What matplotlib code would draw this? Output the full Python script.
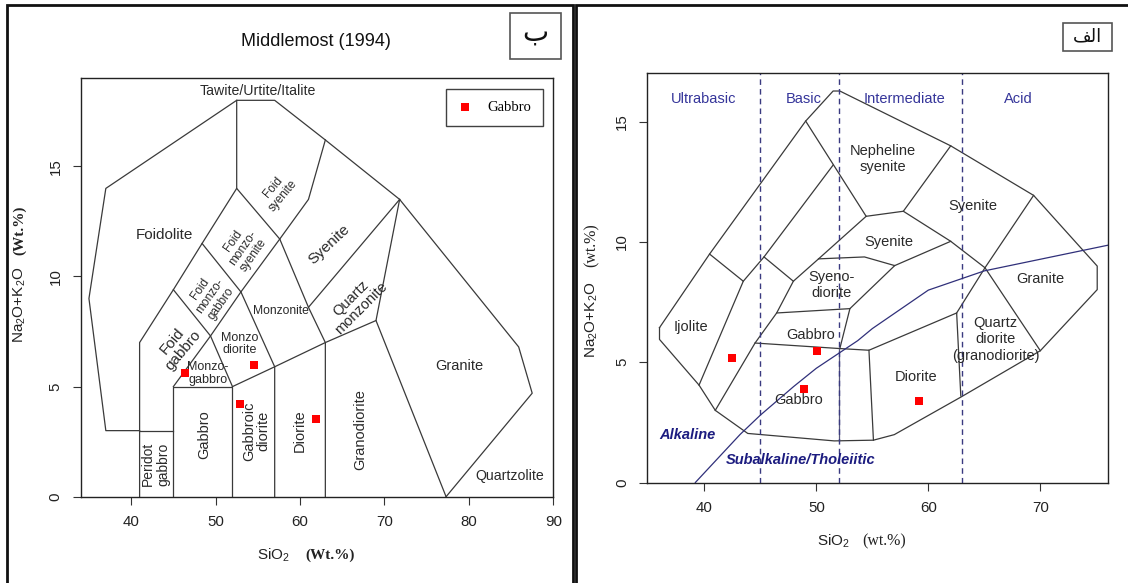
import matplotlib
matplotlib.use('Agg')
import matplotlib.pyplot as plt
from matplotlib.patches import Rectangle

plt.rcParams['font.family'] = ['Liberation Sans', 'DejaVu Sans']
plt.rcParams['mathtext.fontset'] = 'custom'
plt.rcParams['mathtext.rm'] = 'Liberation Sans'
plt.rcParams['mathtext.it'] = 'Liberation Sans:italic'
plt.rcParams['mathtext.bf'] = 'Liberation Sans:bold'

# ---------------- data: left panel (Middlemost 1994) ----------------
mid_outer = [(41, 3), (37, 3), (35, 9), (37, 14), (52.5, 18), (57, 18), (63, 16.2),
             (71.8, 13.5), (85.9, 6.8), (87.5, 4.7), (77.3, 0)]
mid_lines = [
    [(41, 0), (41, 7), (45, 9.4), (48.4, 11.5), (52.5, 14), (52.5, 18)],
    [(41, 3), (45, 3)],
    [(45, 0), (45, 5), (52, 5), (52, 0)],
    [(45, 5), (49.4, 7.3), (53, 9.3), (57.6, 11.7), (61, 13.5), (63, 16.2)],
    [(52.5, 14), (57.6, 11.7)],
    [(48.4, 11.5), (53, 9.3)],
    [(45, 9.4), (49.4, 7.3), (52, 5)],
    [(53, 9.3), (57, 5.9), (57, 0)],
    [(57.6, 11.7), (61, 8.6), (63, 7), (63, 0)],
    [(52, 5), (57, 5.9), (63, 7), (69, 8), (71.8, 13.5)],
    [(61, 8.6), (71.8, 13.5)],
    [(69, 8), (77.3, 0)],
]
mid_labels = [
    ("Foidolite", 43.9, 11.9, 0, 11),
    ("Foid\nsyenite", 57.4, 13.85, 50, 8.5),
    ("Foid\nmonzo-\nsyenite", 53.3, 11.3, 55, 8.5),
    ("Foid\nmonzo-\ngabbro", 49.4, 9.1, 55, 8.5),
    ("Foid\ngabbro", 45.5, 6.86, 50, 11),
    ("Syenite", 63.4, 11.45, 43, 11),
    ("Quartz\nmonzonite", 66.6, 8.78, 45, 10.5),
    ("Monzonite", 57.75, 8.44, 0, 8.7),
    ("Monzo\ndiorite", 52.8, 6.94, 0, 9),
    ("Monzo-\ngabbro", 49.07, 5.6, 0, 9),
    ("Granite", 78.85, 5.93, 0, 10.5),
    ("Quartzolite", 84.9, 0.96, 0, 10.2),
    ("Granodiorite", 67.1, 3.07, 90, 10.5),
    ("Diorite", 60.0, 2.98, 90, 10.5),
    ("Gabbroic\ndiorite", 54.85, 2.98, 90, 10.5),
    ("Gabbro", 48.6, 2.8, 90, 10.5),
    ("Peridot\ngabbro", 42.9, 1.47, 90, 10),
    ("Tawite/Urtite/Italite", 55, 18.44, 0, 10.2),
]
left_sio2 = [46.35, 54.5, 52.85, 61.85]
left_alk = [5.6, 5.97, 4.19, 3.55]

# ---------------- data: right panel (Cox et al. plutonic) ----------------
cox_outer = [(36.0, 6.44), (36.0, 5.95), (39.53, 4.05), (40.98, 3.0), (43.88, 2.04),
             (51.6, 1.73), (55.1, 1.76), (56.96, 1.99), (62.9, 3.55), (70.0, 5.48),
             (75.08, 8.02), (75.08, 9.0), (69.4, 11.94), (62.0, 14.0), (52.1, 16.28),
             (51.5, 16.28), (49.05, 15.03), (40.47, 9.5), (36.0, 6.44)]
cox_lines = [
    [(40.47, 9.5), (43.48, 8.37), (39.53, 4.05)],
    [(51.5, 13.2), (45.33, 9.38), (43.48, 8.37)],
    [(45.33, 9.38), (47.95, 8.37)],
    [(49.05, 15.03), (54.45, 11.07), (57.77, 11.28), (62.0, 14.0)],
    [(54.45, 11.07), (50.2, 9.3), (47.95, 8.37), (46.46, 7.05), (44.53, 5.8), (40.98, 3.0)],
    [(50.2, 9.3), (54.3, 9.38), (57.0, 9.02), (62.0, 10.03)],
    [(57.77, 11.28), (62.0, 10.03), (65.06, 8.93)],
    [(69.4, 11.94), (65.06, 8.93), (70.0, 5.48)],
    [(65.06, 8.93), (62.53, 7.05), (62.9, 3.6)],
    [(57.0, 9.02), (53.0, 7.23), (46.46, 7.05)],
    [(53.0, 7.23), (52.1, 5.57)],
    [(44.53, 5.8), (52.1, 5.57), (54.7, 5.5), (62.53, 7.05)],
    [(54.7, 5.5), (55.1, 1.76)],
]
cox_split = [(52.05, 5.57), (52.05, 1.73)]
cox_labels = [
    ("Nepheline\nsyenite", 55.95, 13.44),
    ("Syenite", 63.98, 11.49),
    ("Syenite", 56.48, 10.0),
    ("Syeno-\ndiorite", 51.38, 8.22),
    ("Gabbro", 49.45, 6.13),
    ("Gabbro", 48.38, 3.43),
    ("Ijolite", 38.77, 6.47),
    ("Granite", 69.97, 8.45),
    ("Quartz\ndiorite\n(granodiorite)", 66.0, 5.95),
    ("Diorite", 58.94, 4.4),
]
silica_bounds = [45, 52, 63]
silica_classes = [("Ultrabasic", 39.94), ("Basic", 48.9), ("Intermediate", 57.9), ("Acid", 68.05)]
ib_x = [39.2, 40, 43.2, 45, 48, 50, 53.7, 55, 60, 65, 77.4]
ib_y = [0, 0.4, 2, 2.8, 4, 4.75, 5.9, 6.4, 8, 8.8, 10]
right_sio2 = [42.5, 50.07, 48.93, 59.2]
right_alk = [5.17, 5.47, 3.9, 3.38]

# ---------------- figure ----------------
W, H = 1128, 583
fig = plt.figure(figsize=(W / 100, H / 100), dpi=100)


def fx(px):
    return px / W


def fy(py):
    return 1 - py / H


LC = '#3a3a3a'
TC = '#2a2a2a'


def style_axes(ax, xt, yt):
    ax.set_xticks(xt)
    ax.set_yticks(yt)
    ax.tick_params(direction='out', length=5.5, width=0.8, color='#333333',
                   labelsize=10.8, labelcolor='#222222', pad=7.5)
    for lab in ax.get_yticklabels():
        lab.set_rotation(90)
        lab.set_va('center')
    for s in ax.spines.values():
        s.set_linewidth(1.0)
        s.set_color('#222222')


# frames of the two panels
fig.add_artist(Rectangle((fx(6.5), fy(640)), fx(572.7) - fx(6.5), fy(4.5) - fy(640),
                         transform=fig.transFigure, fill=False, lw=2.0, ec='#111111'))
fig.add_artist(Rectangle((fx(575.5), fy(640)), fx(1200) - fx(575.5), fy(4.5) - fy(640),
                         transform=fig.transFigure, fill=False, lw=2.0, ec='#111111'))

# ---------- left axes ----------
axL = fig.add_axes([fx(80.5), fy(496.7), fx(553.3) - fx(80.5), fy(78.3) - fy(496.7)])
axL.set_xlim(34, 90)
axL.set_ylim(0, 19)
xs, ys = zip(*mid_outer)
axL.plot(xs, ys, color=LC, lw=0.9)
for ln in mid_lines:
    xs, ys = zip(*ln)
    axL.plot(xs, ys, color=LC, lw=0.9)
for t, x, y, r, s in mid_labels:
    axL.text(x, y, t, rotation=r, fontsize=s, color=TC, ha='center', va='center',
             multialignment='center', linespacing=1.05, rotation_mode='anchor')
hL = axL.scatter(left_sio2, left_alk, marker='s', s=34, color='#ff0000', linewidths=0,
                 zorder=5, label='Gabbro')
style_axes(axL, [40, 50, 60, 70, 80, 90], [0, 5, 10, 15])
leg = axL.legend(handles=[hL], loc='upper right', bbox_to_anchor=(fx(542.7), fy(89.2)),
                 bbox_transform=fig.transFigure, frameon=True, fancybox=False,
                 edgecolor='#111111', borderpad=0.8, handlelength=1.0, handletextpad=1.0,
                 prop={'family': 'Liberation Serif', 'size': 10.5}, borderaxespad=0)
leg.get_frame().set_linewidth(1.0)

fig.text(fx(316), fy(42), "Middlemost (1994)", fontsize=13, ha='center', va='center',
         color='#111111')
fig.add_artist(Rectangle((fx(510.4), fy(58.7)), fx(561.3) - fx(510.4), fy(13.3) - fy(58.7),
                         transform=fig.transFigure, fill=False, lw=1.2, ec='#555555'))
fig.text(fx(535.5), fy(33), "\u0628", fontsize=20, ha='center', va='center',
         family='DejaVu Sans', color='#111111')

fig.text(fx(273), fy(555), r"SiO$_2$", fontsize=11, ha='center', va='center', color='#222222')
fig.text(fx(330), fy(555), "(Wt.%)", fontsize=11, ha='center', va='center',
         family='Liberation Serif', weight='bold', color='#222222')
fig.text(fx(20), fy(305), r"Na$_2$O$+$K$_2$O", fontsize=11, ha='center', va='center',
         rotation=90, color='#222222')
fig.text(fx(20), fy(230), "(Wt.%)", fontsize=11, ha='center', va='center', rotation=90,
         family='Liberation Serif', weight='bold', color='#222222')

# ---------- right axes ----------
axR = fig.add_axes([fx(647.3), fy(482.5), fx(1108.3) - fx(647.3), fy(72.5) - fy(482.5)])
axR.set_xlim(34.91, 76.07)
axR.set_ylim(0, 17.05)
xs, ys = zip(*cox_outer)
axR.plot(xs, ys, color=LC, lw=0.9)
for ln in cox_lines:
    xs, ys = zip(*ln)
    axR.plot(xs, ys, color=LC, lw=0.9)
xs, ys = zip(*cox_split)
axR.plot(xs, ys, color='#55557a', lw=0.9)
for b in silica_bounds:
    axR.axvline(b, color='#3a3a80', lw=1.0, ls=(0, (4, 3)))
axR.plot(ib_x, ib_y, color='#30307a', lw=0.9)
for t, x in silica_classes:
    axR.text(x, 15.94, t, fontsize=10.5, color='#35359a', ha='center', va='center')
for t, x, y in cox_labels:
    axR.text(x, y, t, fontsize=10.5, color=TC, ha='center', va='center',
             multialignment='center', linespacing=1.2)
axR.text(38.46, 1.96, "Alkaline", fontsize=10.5, color='#1c1c80', weight='bold',
         style='italic', ha='center', va='center')
axR.text(48.6, 0.93, "Subalkaline/Tholeiitic", fontsize=10.5, color='#1c1c80', weight='bold',
         style='italic', ha='center', va='center')
axR.scatter(right_sio2, right_alk, marker='s', s=34, color='#ff0000', linewidths=0, zorder=5)
style_axes(axR, [40, 50, 60, 70], [0, 5, 10, 15])

fig.add_artist(Rectangle((fx(1063.3), fy(50.7)), fx(1112) - fx(1063.3), fy(22.7) - fy(50.7),
                         transform=fig.transFigure, fill=False, lw=1.2, ec='#555555'))
fig.text(fx(1087.5), fy(36.5), "\uFED2\uFEDF\uFE8D", fontsize=13, ha='center', va='center',
         family='DejaVu Sans', color='#111111')

fig.text(fx(833), fy(541), r"SiO$_2$", fontsize=11, ha='center', va='center', color='#222222')
fig.text(fx(884), fy(541), "(wt.%)", fontsize=11.5, ha='center', va='center',
         family='Liberation Serif', color='#222222')
fig.text(fx(592), fy(320), r"Na$_2$O$+$K$_2$O", fontsize=11, ha='center', va='center',
         rotation=90, color='#222222')
fig.text(fx(592), fy(245), "(wt.%)", fontsize=11.5, ha='center', va='center', rotation=90,
         family='Liberation Serif', color='#222222')

fig.savefig('out.png', dpi=100)
